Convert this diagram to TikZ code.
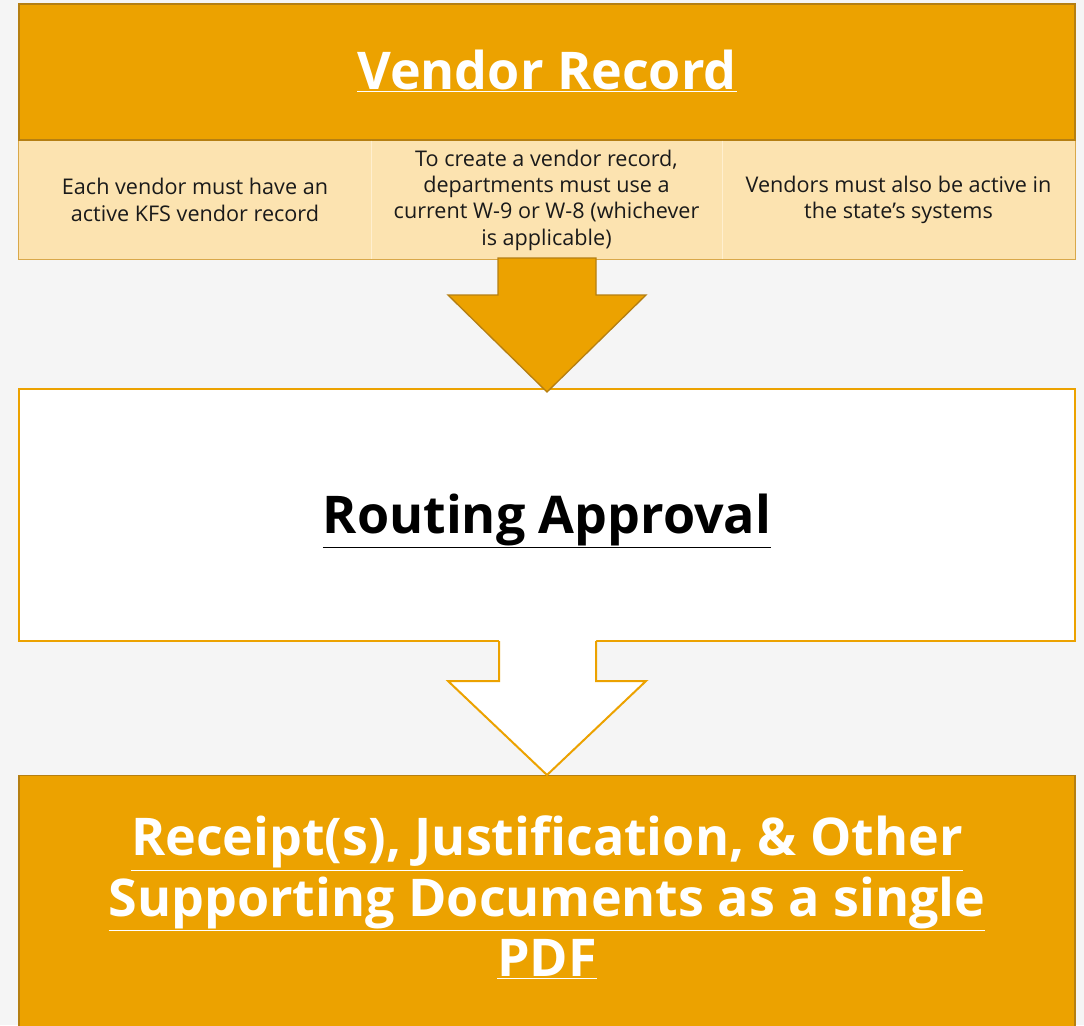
\documentclass[tikz,border=0pt]{standalone}
\usepackage{fontspec}
\setmainfont{Open Sans}
\definecolor{org}{HTML}{ECA200}
\definecolor{orgdk}{HTML}{B57F12}
\definecolor{peach}{HTML}{FCE3B0}
\definecolor{peachln}{HTML}{FFEFCF}
\definecolor{peachbd}{HTML}{D9A84A}
\definecolor{bg}{HTML}{F5F5F5}
\definecolor{ink}{HTML}{1A1A1A}
\tikzset{
  titlebox/.style={rectangle, inner sep=0pt, minimum width=792pt, anchor=center},
  cell/.style={rectangle, fill=peach, inner sep=0pt, minimum height=88.5pt, anchor=center,
    align=center, font=\fontsize{16.2}{19.8}\selectfont, text=ink},
  bigtxt/.style={font=\fontsize{39}{45.5}\selectfont\bfseries, align=center},
}
\begin{document}
\begin{tikzpicture}[x=0.75pt,y=-0.75pt]
\fill[bg] (0,0) rectangle (1084,1025);
\useasboundingbox (0,0) rectangle (1084,1025);

% top box
\node[titlebox, fill=org, draw=orgdk, line width=1pt, minimum height=102pt] (vendor) at (547,72) {};
\node[bigtxt, text=white] (vendortxt) at (547,71) {\underline{Vendor Record}};

% peach cells
\node[cell, minimum width=264pt] (c1) at (195,200) {Each vendor must have an\\active KFS vendor record};
\node[cell, minimum width=263pt] (c2) at (546.5,200) {To create a vendor record,\\departments must use a\\current W-9 or W-8 (whichever\\is applicable)};
\node[cell, minimum width=264.75pt] (c3) at (898.5,200) {Vendors must also be active in\\the state’s systems};
\draw[peachln, line width=0.75pt] (c1.north east) -- (c1.south east);
\draw[peachln, line width=0.75pt] (c2.north east) -- (c2.south east);
\draw[peachbd, line width=0.75pt] (c1.north west) -- (c1.south west) -- (c3.south east) -- (c3.north east);

% middle box
\node[titlebox, fill=white, draw=org, line width=1.5pt, minimum height=189pt] (routing) at (547,515) {};
\node[bigtxt, text=black] (routingtxt) at (547,521) {\underline{Routing Approval}};

% arrow 1
\draw[fill=org, draw=orgdk, line width=1pt, line join=miter]
  (498,258) -- (596,258) -- (596,295) -- (646,295) -- (547,392) -- (448,295) -- (498,295) -- cycle;

% bottom box
\node[rectangle, inner sep=0pt, minimum width=792pt, minimum height=195pt, anchor=north,
  fill=org, draw=orgdk, line width=1pt] (receipt) at (547,775) {};
\node[bigtxt, text=white, anchor=north] (receipttxt) at (547,811)
  {\underline{Receipt(s), Justification, \& Other}\\
   \underline{Supporting Documents as a single}\\
   \underline{PDF}};

% arrow 2
\fill[white] (499,640) -- (596,640) -- (596,681) -- (646,681) -- (547,775) -- (448,681) -- (499,681) -- cycle;
\draw[org, line width=1.5pt, line join=miter]
  (596,641) -- (596,681) -- (646,681) -- (547,775) -- (448,681) -- (499,681) -- (499,641);
\end{tikzpicture}
\end{document}
